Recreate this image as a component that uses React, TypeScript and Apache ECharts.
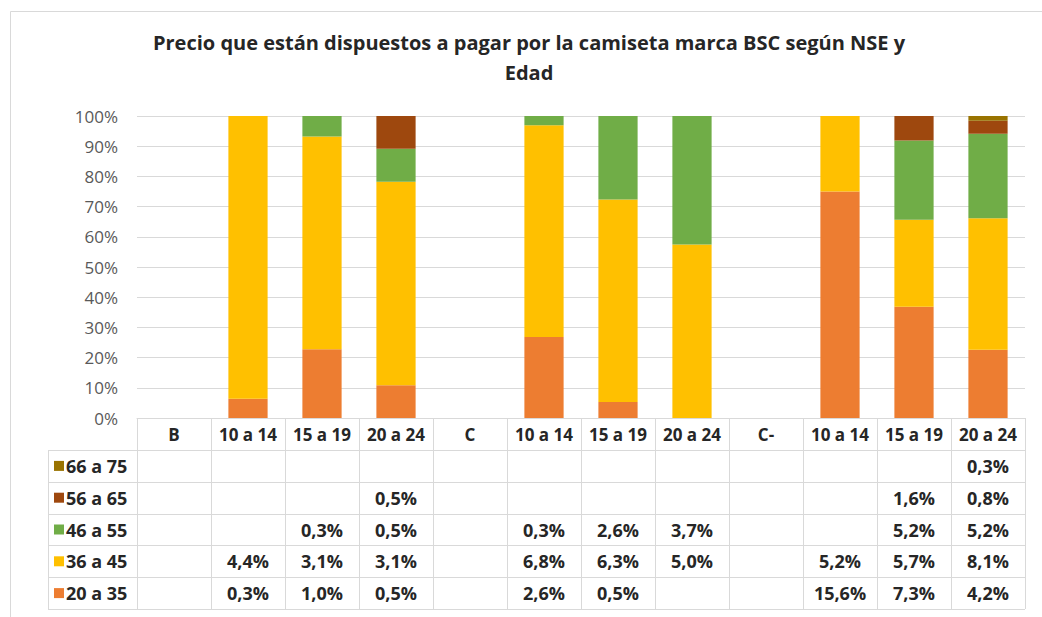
import React, { useEffect, useRef } from "react";
import * as echarts from "echarts";

const title = "Precio que están dispuestos a pagar por la camiseta marca BSC según NSE y\nEdad";
const categories = ["B", "10 a 14", "15 a 19", "20 a 24", "C", "10 a 14", "15 a 19", "20 a 24", "C-", "10 a 14", "15 a 19", "20 a 24"];
const seriesNames = ["20 a 35", "36 a 45", "46 a 55", "56 a 65", "66 a 75"];
const colors = ["#ED7D31", "#FFC000", "#70AD47", "#9E480E", "#997300"];
const s20a35 = [null, 0.3, 1.0, 0.5, null, 2.6, 0.5, null, null, 15.6, 7.3, 4.2];
const s36a45 = [null, 4.4, 3.1, 3.1, null, 6.8, 6.3, 5.0, null, 5.2, 5.7, 8.1];
const s46a55 = [null, null, 0.3, 0.5, null, 0.3, 2.6, 3.7, null, null, 5.2, 5.2];
const s56a65 = [null, null, null, 0.5, null, null, null, null, null, null, 1.6, 0.8];
const s66a75 = [null, null, null, null, null, null, null, null, null, null, null, 0.3];
const yTicks = [0, 10, 20, 30, 40, 50, 60, 70, 80, 90, 100];

const W = 1042;
const H = 617;
const GL = 137;
const GR = 17;
const GT = 116;
const GB = 199;

const FONT = "'Open Sans', sans-serif";

export default function App() {
  const ref = useRef<HTMLDivElement>(null);
  useEffect(() => {
    document.body.style.margin = "0";
    const chart = echarts.init(ref.current!, null, { renderer: "svg" });
    const raw = [s20a35, s36a45, s46a55, s56a65, s66a75];
    const totals = categories.map((_, i) => raw.reduce((a, s) => a + (s[i] ?? 0), 0));
    const pct = raw.map((s) => s.map((v, i) => (v == null || !totals[i] ? null : (v / totals[i]) * 100)));

    const plotW = W - GL - GR;
    const colW = plotW / categories.length;
    const tableTop = H - GB; // 418
    const headerH = 32;
    const rowH = 31.8;
    const legendLeft = 48;
    const tableBottom = tableTop + headerH + rowH * 5;
    const lineColor = "#D9D9D9";

    const g: any[] = [];
    // outer border
    g.push({ type: "rect", shape: { x: 10.5, y: 11.5, width: 1100, height: 700 }, style: { fill: "none", stroke: "#D9D9D9", lineWidth: 1 }, silent: true });
    // title
    g.push({
      type: "text", x: 529, y: 27,
      style: { text: title, font: `bold 20px ${FONT}`, fill: "#262626", textAlign: "center", textVerticalAlign: "top", lineHeight: 30 },
    });
    // vertical lines
    for (let c = 0; c <= categories.length; c++) {
      const x = Math.round(GL + c * colW) + 0.5;
      g.push({ type: "line", shape: { x1: x, y1: tableTop, x2: x, y2: tableBottom }, style: { stroke: lineColor, lineWidth: 1 }, silent: true });
    }
    // legend col left border
    g.push({ type: "line", shape: { x1: legendLeft + 0.5, y1: tableTop + headerH, x2: legendLeft + 0.5, y2: tableBottom }, style: { stroke: lineColor, lineWidth: 1 }, silent: true });
    // horizontal lines
    for (let r = 0; r <= 5; r++) {
      const y = Math.round(tableTop + headerH + r * rowH) + 0.5;
      g.push({ type: "line", shape: { x1: legendLeft, y1: y, x2: W - GR, y2: y }, style: { stroke: lineColor, lineWidth: 1 }, silent: true });
    }
    // rows: top to bottom reversed order
    for (let r = 0; r < 5; r++) {
      const si = 4 - r;
      const cy = tableTop + headerH + r * rowH + rowH / 2;
      g.push({ type: "rect", shape: { x: 54, y: cy - 5, width: 10, height: 10 }, style: { fill: colors[si] }, silent: true });
      g.push({ type: "text", x: 66, y: cy, style: { text: seriesNames[si], font: `bold 18px ${FONT}`, fill: "#262626", textAlign: "left", textVerticalAlign: "middle" }, silent: true });
      raw[si].forEach((v, i) => {
        if (v == null) return;
        g.push({
          type: "text", x: GL + (i + 0.5) * colW, y: cy,
          style: { text: v.toFixed(1).replace(".", ",") + "%", font: `bold 18px ${FONT}`, fill: "#262626", textAlign: "center", textVerticalAlign: "middle" },
          silent: true,
        });
      });
    }

    chart.setOption({
      animation: false,
      backgroundColor: "#ffffff",
      grid: { left: GL, right: GR, top: GT, bottom: GB, containLabel: false },
      xAxis: {
        type: "category",
        data: categories,
        axisLine: { show: true, lineStyle: { color: lineColor } },
        axisTick: { show: false },
        axisLabel: { interval: 0, margin: 16, verticalAlign: "middle", color: "#262626", fontFamily: FONT, fontWeight: "bold", fontSize: 17 },
      },
      yAxis: {
        type: "value",
        min: yTicks[0],
        max: yTicks[yTicks.length - 1],
        interval: 10,
        axisLine: { show: false },
        axisTick: { show: false },
        splitLine: { lineStyle: { color: lineColor } },
        axisLabel: { margin: 19, color: "#595959", fontFamily: FONT, fontSize: 17, formatter: (v: number) => v + "%" },
      },
      series: seriesNames.map((name, i) => ({
        name,
        type: "bar",
        stack: "total",
        barWidth: "53%",
        data: pct[i],
        itemStyle: { color: colors[i] },
      })),
      graphic: g,
    });
    return () => chart.dispose();
  }, []);
  return <div ref={ref} style={{ position: "fixed", left: 0, top: 0, width: W, height: H }} />;
}
